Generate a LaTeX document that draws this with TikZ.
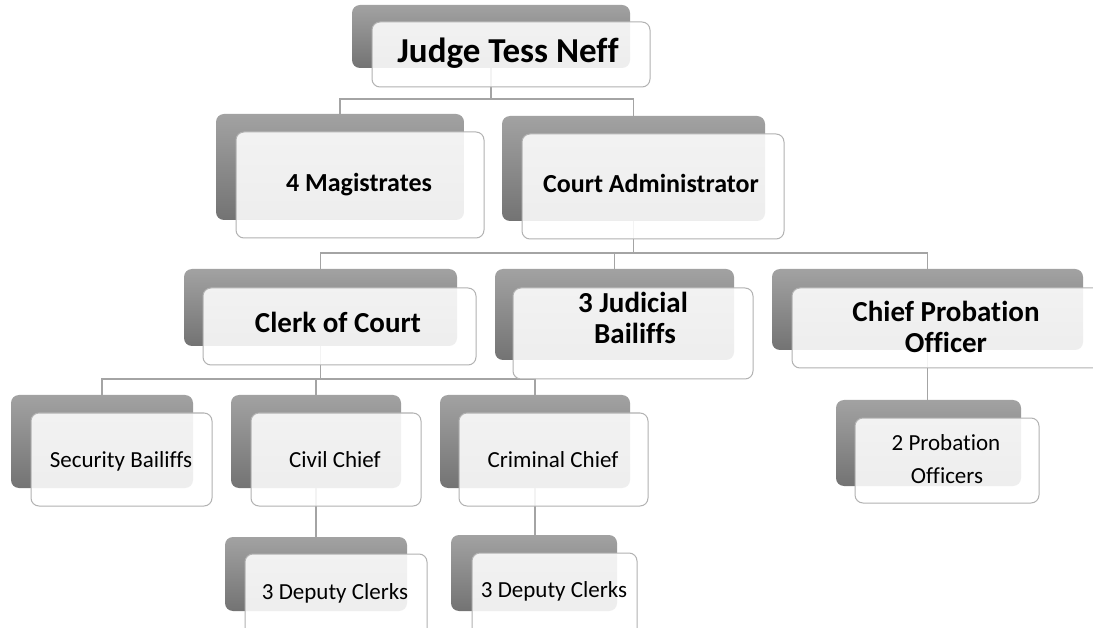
\documentclass[tikz,border=0pt]{standalone}
\usepackage{fontspec}
\setmainfont{Carlito}[Ligatures=CommonOff]
\definecolor{backtop}{HTML}{A2A2A2}
\definecolor{backbot}{HTML}{737373}
\definecolor{frontedge}{HTML}{B2B2B2}
\definecolor{connc}{HTML}{A4A4A4}
\tikzset{
  backbox/.style={rounded corners=8pt, top color=backtop, bottom color=backbot,
    draw=none, inner sep=0pt, outer sep=0pt},
  frontbox/.style={rounded corners=8pt, fill=white, fill opacity=0.88,
    draw=frontedge, line width=1pt, inner sep=0pt, outer sep=0pt},
  conn/.style={draw=connc, line width=1.3pt},
  bigtxt/.style={anchor=base, inner sep=0pt, font=\bfseries\fontsize{35}{38}\selectfont},
  headtxt/.style={anchor=base, inner sep=0pt, font=\bfseries\fontsize{26}{30}\selectfont},
  midtxt/.style={anchor=base, inner sep=0pt, font=\bfseries\fontsize{29}{31}\selectfont},
  smalltxt/.style={anchor=base, inner sep=0pt, font=\fontsize{23}{26}\selectfont},
}
% name, x1, y1, x2, y2
\newcommand{\backrect}[5]{\node[backbox, minimum width={(#4-#2)*1pt},
  minimum height={(#5-#3)*1pt}] (#1) at ({(#2+#4)/2},{(#3+#5)/2}) {};}
\newcommand{\frontrect}[5]{\node[frontbox, minimum width={(#4-#2)*1pt},
  minimum height={(#5-#3)*1pt}] (#1) at ({(#2+#4)/2},{(#3+#5)/2}) {};}
\begin{document}
\begin{tikzpicture}[x=1pt, y=-1pt]
\useasboundingbox (0,0) rectangle (1093,628);
\clip (0,0) rectangle (1093,628);
\fill[white] (0,0) rectangle (1093,628);

% shaded back plates
\backrect{judgeB}{352}{5}{630}{68}
\backrect{magB}{216}{114}{464}{220}
\backrect{caB}{502}{116}{765}{221}
\backrect{clerkB}{184}{269}{457}{346}
\backrect{jbB}{495}{269}{734}{360}
\backrect{cpoB}{772}{269}{1083}{350}
\backrect{secB}{11}{395}{193}{488}
\backrect{civB}{231}{395}{401}{488}
\backrect{crimB}{440}{395}{630}{488}
\backrect{poB}{836}{400}{1021}{486}
\backrect{dcaB}{225}{537}{407}{611}
\backrect{dcbB}{451}{535}{617}{611}

% connectors
\path (judgeB.south) ++(0,31) coordinate (jbus);
\draw[conn] (judgeB.south) -- (jbus) -| (magB.north);
\draw[conn] (jbus) -| (caB.north);
\path (caB.south) ++(0,32) coordinate (cabus);
\draw[conn] (caB.south) -- (cabus) -| (clerkB.north);
\draw[conn] (cabus) -| (jbB.north);
\draw[conn] (cabus) -| (cpoB.north);
\path (clerkB.south) ++(0,33) coordinate (clbus);
\draw[conn] (clerkB.south) -- (clbus) -| (secB.north);
\draw[conn] (clbus) -| (civB.north);
\draw[conn] (clbus) -| (crimB.north);
\draw[conn] (cpoB.south) -- (cpoB.south |- poB.north);
\draw[conn] (civB.south) -- (civB.south |- dcaB.north);
\draw[conn] (crimB.south) -- (crimB.south |- dcbB.north);

% white front cards
\frontrect{judgeF}{372}{22}{650}{87}
\frontrect{magF}{236}{132}{484}{238}
\frontrect{caF}{522}{134}{784}{239}
\frontrect{clerkF}{203}{288}{476}{365}
\frontrect{jbF}{513}{288}{753}{379}
\frontrect{cpoF}{792}{288}{1110}{368}
\frontrect{secF}{31}{413}{212}{506}
\frontrect{civF}{251}{413}{421}{506}
\frontrect{crimF}{459}{413}{648}{506}
\frontrect{poF}{855}{418}{1039}{503}
\frontrect{dcaF}{245}{554}{427}{640}
\frontrect{dcbF}{472}{553}{637}{640}

% labels
\node[bigtxt] (tjudge) at (508,63) {Judge Tess Neff};
\node[headtxt] (tmag) at (359,192) {4 Magistrates};
\node[headtxt] (tca) at (651,193) {Court Administrator};
\node[midtxt] (tclerk) at (338,333) {Clerk of Court};
\node[midtxt] (tjb1) at (633,313) {3 Judicial};
\node[midtxt] (tjb2) at (635,344) {Bailiffs};
\node[midtxt] (tcpo1) at (946,322) {Chief Probation};
\node[midtxt] (tcpo2) at (946,353) {Officer};
\node[smalltxt] (tsec) at (121,467) {Security Bailiffs};
\node[smalltxt] (tciv) at (335,467) {Civil Chief};
\node[smalltxt] (tcrim) at (553,467) {Criminal Chief};
\node[smalltxt] (tpo1) at (946,450) {2 Probation};
\node[smalltxt] (tpo2) at (947,483) {Officers};
\node[smalltxt] (tdca) at (335,599) {3 Deputy Clerks};
\node[smalltxt] (tdcb) at (554,597) {3 Deputy Clerks};
\end{tikzpicture}
\end{document}
